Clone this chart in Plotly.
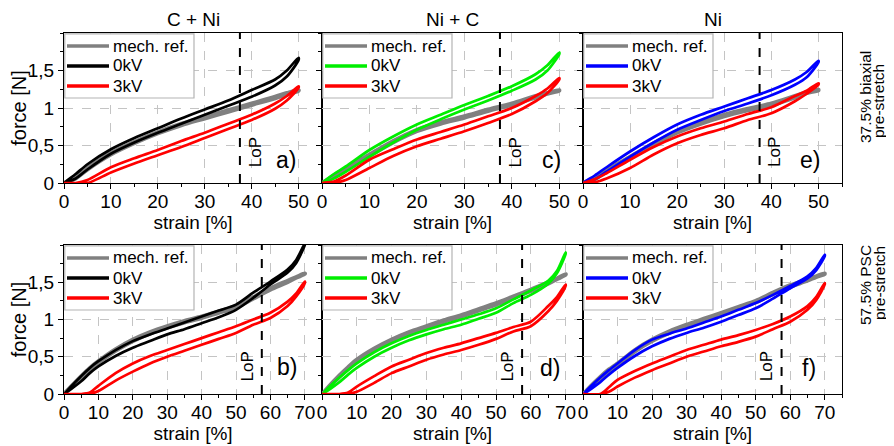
import plotly.graph_objects as go

# ---------------- data ----------------
STRAIN_TOP = [0, 2.5, 5, 10, 15, 20, 25, 30, 35, 40, 45, 47.5, 50]
STRAIN_BOT = [0, 5, 7.5, 10, 15, 20, 25, 30, 35, 40, 45, 50, 55, 60, 65, 67.5, 70]

# a) C + Ni, 37.5% biaxial
A_REF_LOAD   = [0, 0.08, 0.20, 0.40, 0.55, 0.68, 0.79, 0.88, 0.97, 1.06, 1.15, 1.20, 1.24]
A_REF_UNLOAD = [0, 0.06, 0.18, 0.38, 0.53, 0.66, 0.77, 0.86, 0.95, 1.04, 1.13, 1.18, 1.23]
A_0KV_LOAD   = [0, 0.12, 0.25, 0.45, 0.60, 0.73, 0.86, 0.98, 1.10, 1.24, 1.38, 1.50, 1.67]
A_0KV_UNLOAD = [0, 0.06, 0.18, 0.39, 0.54, 0.67, 0.79, 0.91, 1.03, 1.15, 1.30, 1.42, 1.64]
A_3KV_LOAD   = [0, 0.00, 0.04, 0.21, 0.33, 0.44, 0.56, 0.67, 0.79, 0.91, 1.06, 1.16, 1.29]
A_3KV_UNLOAD = [0, 0.00, 0.00, 0.14, 0.26, 0.37, 0.48, 0.60, 0.72, 0.84, 0.99, 1.10, 1.27]

# c) Ni + C, 37.5% biaxial
C_REF_LOAD   = [0, 0.10, 0.20, 0.38, 0.56, 0.71, 0.81, 0.89, 0.98, 1.06, 1.16, 1.20, 1.24]
C_REF_UNLOAD = [0, 0.08, 0.18, 0.36, 0.54, 0.69, 0.79, 0.87, 0.96, 1.04, 1.14, 1.19, 1.23]
C_0KV_LOAD   = [0, 0.12, 0.22, 0.44, 0.62, 0.78, 0.91, 1.04, 1.16, 1.29, 1.45, 1.57, 1.74]
C_0KV_UNLOAD = [0, 0.06, 0.15, 0.35, 0.54, 0.71, 0.85, 0.98, 1.10, 1.23, 1.38, 1.50, 1.72]
C_3KV_LOAD   = [0, 0.02, 0.10, 0.31, 0.45, 0.58, 0.68, 0.78, 0.89, 1.00, 1.16, 1.26, 1.40]
C_3KV_UNLOAD = [0, 0.00, 0.04, 0.20, 0.36, 0.49, 0.59, 0.69, 0.80, 0.92, 1.09, 1.20, 1.38]

# e) Ni, 37.5% biaxial
E_REF_LOAD   = [0, 0.07, 0.17, 0.35, 0.53, 0.69, 0.81, 0.91, 0.99, 1.06, 1.16, 1.21, 1.245]
E_REF_UNLOAD = [0, 0.05, 0.15, 0.33, 0.51, 0.67, 0.79, 0.89, 0.97, 1.04, 1.14, 1.20, 1.235]
E_0KV_LOAD   = [0, 0.10, 0.21, 0.42, 0.61, 0.78, 0.91, 1.02, 1.13, 1.24, 1.38, 1.48, 1.63]
E_0KV_UNLOAD = [0, 0.05, 0.15, 0.35, 0.54, 0.71, 0.84, 0.96, 1.06, 1.17, 1.31, 1.41, 1.61]
E_3KV_LOAD   = [0, 0.05, 0.13, 0.31, 0.48, 0.62, 0.73, 0.82, 0.92, 1.01, 1.16, 1.23, 1.33]
E_3KV_UNLOAD = [0, 0.01, 0.06, 0.20, 0.38, 0.53, 0.64, 0.73, 0.84, 0.93, 1.09, 1.19, 1.31]

# b) C + Ni, 57.5% PSC
B_REF_LOAD   = [0, 0.24, 0.35, 0.44, 0.60, 0.73, 0.83, 0.91, 0.98, 1.04, 1.11, 1.18, 1.30, 1.42, 1.52, 1.57, 1.62]
B_REF_UNLOAD = [0, 0.22, 0.33, 0.42, 0.58, 0.71, 0.81, 0.89, 0.96, 1.02, 1.09, 1.16, 1.28, 1.40, 1.50, 1.56, 1.61]
B_0KV_LOAD   = [0, 0.24, 0.35, 0.44, 0.59, 0.71, 0.80, 0.88, 0.96, 1.04, 1.12, 1.20, 1.36, 1.51, 1.67, 1.80, 2.02]
B_0KV_UNLOAD = [0, 0.17, 0.28, 0.37, 0.51, 0.62, 0.71, 0.80, 0.87, 0.95, 1.03, 1.13, 1.29, 1.47, 1.63, 1.76, 2.00]
B_3KV_LOAD   = [0, 0.00, 0.02, 0.11, 0.28, 0.41, 0.51, 0.59, 0.67, 0.75, 0.83, 0.91, 1.00, 1.09, 1.24, 1.35, 1.51]
B_3KV_UNLOAD = [0, 0.00, 0.00, 0.04, 0.18, 0.30, 0.41, 0.50, 0.58, 0.66, 0.74, 0.82, 0.93, 1.02, 1.18, 1.31, 1.49]

# d) Ni + C, 57.5% PSC
D_REF_LOAD   = [0, 0.25, 0.36, 0.46, 0.61, 0.73, 0.83, 0.91, 0.99, 1.06, 1.14, 1.22, 1.31, 1.40, 1.50, 1.55, 1.61]
D_REF_UNLOAD = [0, 0.23, 0.34, 0.44, 0.59, 0.71, 0.81, 0.89, 0.97, 1.04, 1.12, 1.20, 1.29, 1.38, 1.48, 1.54, 1.60]
D_0KV_LOAD   = [0, 0.22, 0.32, 0.41, 0.56, 0.68, 0.78, 0.86, 0.93, 1.00, 1.07, 1.15, 1.27, 1.39, 1.52, 1.65, 1.90]
D_0KV_UNLOAD = [0, 0.16, 0.26, 0.35, 0.50, 0.62, 0.72, 0.80, 0.87, 0.93, 1.01, 1.09, 1.22, 1.33, 1.48, 1.62, 1.88]
D_3KV_LOAD   = [0, 0.00, 0.02, 0.10, 0.24, 0.37, 0.46, 0.55, 0.62, 0.68, 0.75, 0.82, 0.90, 0.97, 1.18, 1.30, 1.47]
D_3KV_UNLOAD = [0, 0.00, 0.00, 0.03, 0.15, 0.28, 0.37, 0.46, 0.53, 0.59, 0.66, 0.74, 0.84, 0.91, 1.11, 1.25, 1.45]

# f) Ni, 57.5% PSC
F_REF_LOAD   = [0, 0.23, 0.33, 0.41, 0.59, 0.73, 0.84, 0.93, 1.01, 1.09, 1.17, 1.25, 1.36, 1.46, 1.54, 1.58, 1.62]
F_REF_UNLOAD = [0, 0.21, 0.31, 0.39, 0.57, 0.71, 0.82, 0.91, 0.99, 1.07, 1.15, 1.23, 1.34, 1.44, 1.52, 1.57, 1.61]
F_0KV_LOAD   = [0, 0.22, 0.32, 0.41, 0.59, 0.73, 0.81, 0.88, 0.96, 1.04, 1.13, 1.22, 1.33, 1.45, 1.58, 1.69, 1.87]
F_0KV_UNLOAD = [0, 0.16, 0.26, 0.35, 0.51, 0.64, 0.74, 0.82, 0.89, 0.97, 1.06, 1.15, 1.28, 1.42, 1.55, 1.66, 1.85]
F_3KV_LOAD   = [0, 0.00, 0.09, 0.19, 0.31, 0.41, 0.50, 0.59, 0.66, 0.73, 0.79, 0.86, 0.94, 1.04, 1.18, 1.30, 1.49]
F_3KV_UNLOAD = [0, 0.00, 0.03, 0.10, 0.22, 0.32, 0.41, 0.50, 0.57, 0.64, 0.70, 0.77, 0.87, 0.97, 1.13, 1.26, 1.47]

COLUMN_TITLES = ["C + Ni", "Ni + C", "Ni"]
ROW_LABEL_LINES = [["37.5% biaxial", "pre-stretch"], ["57.5% PSC", "pre-stretch"]]
SERIES_NAMES = ["mech. ref.", "0kV", "3kV"]
PANEL_LABELS = ["a)", "c)", "e)", "b)", "d)", "f)"]
LOP_STRAIN = [37.5, 57.5]
X_TICKS_TOP = [0, 10, 20, 30, 40, 50]
X_TICKS_BOT = [0, 10, 20, 30, 40, 50, 60, 70]
Y_TICKS = [0, 0.5, 1, 1.5]
Y_TICK_TEXT = ["0", "0,5", "1", "1,5"]

# ---------------- styling ----------------
FONT = "Liberation Sans, Arial, sans-serif"
GRAY = "#808080"
RED = "#ff0000"
ZERO_COLORS = ["#000000", "#00ee00", "#0000ff"]

panels = [
    (0, 0, STRAIN_TOP, [(A_REF_LOAD, A_REF_UNLOAD), (A_0KV_LOAD, A_0KV_UNLOAD), (A_3KV_LOAD, A_3KV_UNLOAD)]),
    (0, 1, STRAIN_TOP, [(C_REF_LOAD, C_REF_UNLOAD), (C_0KV_LOAD, C_0KV_UNLOAD), (C_3KV_LOAD, C_3KV_UNLOAD)]),
    (0, 2, STRAIN_TOP, [(E_REF_LOAD, E_REF_UNLOAD), (E_0KV_LOAD, E_0KV_UNLOAD), (E_3KV_LOAD, E_3KV_UNLOAD)]),
    (1, 0, STRAIN_BOT, [(B_REF_LOAD, B_REF_UNLOAD), (B_0KV_LOAD, B_0KV_UNLOAD), (B_3KV_LOAD, B_3KV_UNLOAD)]),
    (1, 1, STRAIN_BOT, [(D_REF_LOAD, D_REF_UNLOAD), (D_0KV_LOAD, D_0KV_UNLOAD), (D_3KV_LOAD, D_3KV_UNLOAD)]),
    (1, 2, STRAIN_BOT, [(F_REF_LOAD, F_REF_UNLOAD), (F_0KV_LOAD, F_0KV_UNLOAD), (F_3KV_LOAD, F_3KV_UNLOAD)]),
]

# page offset of the figure inside the browser page (default body margin)
OFF = 8
W, H = 894, 446
ML, MR, MT, MB = 64, 52, 33, 52
PW, PH = W - ML - MR, H - MT - MB
col_px = [(64, 322), (322, 583), (583, 842)]
row_px = [(33, 183), (245, 394)]
col_dom = [[(a - ML) / PW, (b - ML) / PW] for a, b in col_px]
row_dom = [[(H - MB - b) / PH, (H - MB - a) / PH] for a, b in row_px]


def px_x(p):
    return (p - ML) / PW


def px_y(p):
    return (H - MB - p) / PH


# legend geometry (pixels from the panel's top-left corner)
LEG_W, LEG_H = 130, 65
LEG_ROWS = [13, 33, 53]
LEG_LINE = (3, 45)
LEG_TEXT_X = 47

fig = go.Figure()
layout = dict(
    width=W - OFF, height=H - OFF,
    margin=dict(l=ML - OFF, r=MR, t=MT - OFF, b=MB, autoexpand=False),
    paper_bgcolor="white", plot_bgcolor="white",
    font=dict(family=FONT, size=19, color="black"),
    shapes=[], annotations=[], showlegend=False,
)

for k, (r, c, strain, series) in enumerate(panels):
    idx = k + 1
    xs = "x" if idx == 1 else f"x{idx}"
    ys = "y" if idx == 1 else f"y{idx}"
    colors = [GRAY, ZERO_COLORS[c], RED]
    widths = [4, 2.7, 2.7]
    for (load, unload), name, col, wd in zip(series, SERIES_NAMES, colors, widths):
        fig.add_trace(go.Scatter(
            x=list(strain) + list(strain)[::-1],
            y=list(load) + list(unload)[::-1],
            mode="lines", name=name,
            line=dict(color=col, width=wd, shape="spline", smoothing=0.8),
            xaxis=xs, yaxis=ys, showlegend=False,
        ))
    xmax = 55 if r == 0 else 75
    xaxis = dict(
        domain=col_dom[c], anchor=ys, range=[0, xmax], automargin=False,
        tickvals=X_TICKS_TOP if r == 0 else X_TICKS_BOT,
        showline=True, linecolor="black", linewidth=1.3, mirror=True,
        ticks="outside", ticklen=5, tickcolor="black",
        minor=dict(dtick=5, ticks="outside", ticklen=3, tickcolor="black", showgrid=False),
        showgrid=True, gridcolor="#c4c4c4", griddash="dash", gridwidth=1,
        zeroline=False, tickfont=dict(size=19), ticklabelstandoff=-4,
        title=dict(text="strain [%]", font=dict(size=19), standoff=4),
    )
    yaxis = dict(
        domain=row_dom[r], anchor=xs, range=[0, 2.0], automargin=False,
        tickvals=Y_TICKS, ticktext=Y_TICK_TEXT, showticklabels=(c == 0),
        showline=True, linecolor="black", linewidth=1.3, mirror=True,
        ticks="outside", ticklen=5, tickcolor="black",
        minor=dict(dtick=0.25, ticks="outside", ticklen=3, tickcolor="black", showgrid=False),
        showgrid=True, gridcolor="#c4c4c4", griddash="dash", gridwidth=1,
        zeroline=False, tickfont=dict(size=19),
    )
    if c == 0:
        yaxis["title"] = dict(text="force [N]", font=dict(size=20), standoff=2)
    layout["xaxis" if idx == 1 else f"xaxis{idx}"] = xaxis
    layout["yaxis" if idx == 1 else f"yaxis{idx}"] = yaxis

    # legend box drawn inside the panel (top-left)
    pw = col_px[c][1] - col_px[c][0]
    ph = row_px[r][1] - row_px[r][0]
    xd, yd = xs + " domain", ys + " domain"
    layout["shapes"].append(dict(
        type="rect", xref=xd, yref=yd, layer="above",
        x0=0.8 / pw, x1=LEG_W / pw, y0=1 - LEG_H / ph, y1=1 - 0.8 / ph,
        fillcolor="white", line=dict(color="#b4b4b4", width=1.2),
    ))
    for name, col, dy in zip(SERIES_NAMES, colors, LEG_ROWS):
        layout["shapes"].append(dict(
            type="line", xref=xd, yref=yd, layer="above",
            x0=LEG_LINE[0] / pw, x1=LEG_LINE[1] / pw, y0=1 - dy / ph, y1=1 - dy / ph,
            line=dict(color=col, width=3.5),
        ))
        layout["annotations"].append(dict(
            xref=xd, yref=yd, x=LEG_TEXT_X / pw, y=1 - dy / ph, text=name,
            xanchor="left", yanchor="middle", showarrow=False, font=dict(size=17),
        ))

    lop = LOP_STRAIN[r]
    layout["shapes"].append(dict(
        type="line", xref=xs, yref=ys, x0=lop, x1=lop, y0=0, y1=2.0,
        line=dict(color="black", width=2, dash="dash"),
    ))
    if r == 0:
        lx, ly = lop + 3.2, 0.41
        px, py = (47.3, 0.31) if c == 0 else (48.3, 0.31)
    else:
        lx, ly = lop - 4.3, 0.37
        px, py = (64.9, 0.36) if c == 0 else (65.4, 0.35)
    layout["annotations"].append(dict(
        xref=xs, yref=ys, x=lx, y=ly, text="LoP", textangle=-90,
        xanchor="center", yanchor="middle",
        showarrow=False, font=dict(size=17),
    ))
    layout["annotations"].append(dict(
        xref=xs, yref=ys, x=px, y=py, text=PANEL_LABELS[k],
        xanchor="center", yanchor="middle",
        showarrow=False, font=dict(size=23),
    ))

for c, t in enumerate(COLUMN_TITLES):
    layout["annotations"].append(dict(
        xref="paper", yref="paper", x=sum(col_dom[c]) / 2, y=px_y(20),
        xanchor="center", yanchor="middle", text=t, showarrow=False, font=dict(size=19),
    ))
ROW_LABEL_POS = [[(865, 97), (879, 101)], [(865, 285), (879, 283)]]
for r, lines in enumerate(ROW_LABEL_LINES):
    for t, (lx, ly) in zip(lines, ROW_LABEL_POS[r]):
        layout["annotations"].append(dict(
            xref="paper", yref="paper", x=px_x(lx), y=px_y(ly),
            xanchor="center", yanchor="middle",
            text=t, textangle=-90, showarrow=False, font=dict(size=15.5),
        ))

fig.update_layout(**layout)
fig.write_html("out.html")
